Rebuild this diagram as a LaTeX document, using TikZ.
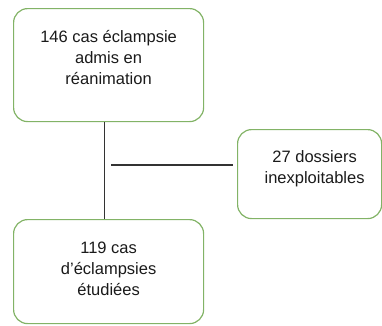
\documentclass[tikz,border=0pt]{standalone}
\usepackage{fontspec}
\setmainfont{Liberation Sans}
\usetikzlibrary{positioning,calc}
\definecolor{boxgreen}{HTML}{82B366}
\definecolor{linegray}{HTML}{333333}
\definecolor{txtgray}{HTML}{1A1A1A}
\tikzset{
  box/.style={draw=boxgreen,line width=1.2pt,rounded corners=14pt,inner sep=0pt,anchor=north west},
  lbl/.style={font=\fontsize{16.5}{21}\selectfont,align=center,anchor=north,inner sep=0pt,text=txtgray},
  link/.style={draw=linegray,line width=1.3pt}
}

\begin{document}
\begin{tikzpicture}[x=1pt,y=-1pt]
  \useasboundingbox (0,0) rectangle (382,325);
  % the three boxes
  \node[box,minimum width=190pt,minimum height=113pt] (adm) at (13,8) {};
  \node[box,minimum width=144pt,minimum height=89pt] (inex) at (237,129) {};
  \node[box,minimum width=190pt,minimum height=104pt] (etud) at (13,219) {};
  \node[lbl] (admtxt) at ([yshift=-22.5pt]adm.north) {146 cas éclampsie\\admis en\\réanimation};
  \node[lbl] (inextxt) at ([xshift=5pt,yshift=-21.5pt]inex.north) {27 dossiers\\inexploitables};
  \node[lbl] (etudtxt) at ([yshift=-23pt]etud.north) {119 cas\\d’éclampsies\\étudiées};
  % links
  \draw[link] ([xshift=-4pt]adm.south) -- ([xshift=-4pt]etud.north);
  \coordinate (branch) at (111,165);
  \draw[link,shorten >=4pt] (branch) -- (branch -| inex.west);
\end{tikzpicture}
\end{document}
